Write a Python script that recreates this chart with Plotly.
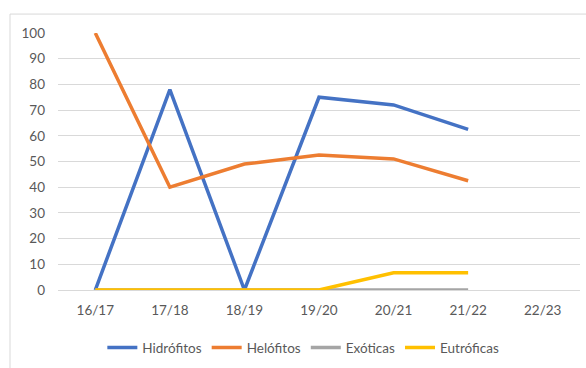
import plotly.graph_objects as go

categories = ["16/17", "17/18", "18/19", "19/20", "20/21", "21/22", "22/23"]
hidrofitos = [0, 78, 0, 75, 72, 62.5, None]
helofitos = [100, 40, 49, 52.5, 51, 42.5, None]
exoticas = [0, 0, 0, 0, 0, 0, None]
eutroficas = [0, 0, 0, 0, 6.7, 6.7, None]

series = [
    ("Hidrófitos", hidrofitos, "#4472C4"),
    ("Helófitos", helofitos, "#ED7D31"),
    ("Exóticas", exoticas, "#A5A5A5"),
    ("Eutróficas", eutroficas, "#FFC000"),
]

fig = go.Figure()
for name, vals, color in series:
    fig.add_trace(go.Scatter(
        x=categories, y=vals, name=name, mode="lines",
        line=dict(color=color, width=3.5), connectgaps=False,
    ))

font = dict(family="Lato, Open Sans, sans-serif", size=13.5, color="#595959")
fig.update_layout(
    width=586, height=368,
    margin=dict(l=58, r=6, t=33, b=77),
    paper_bgcolor="white", plot_bgcolor="white",
    font=font,
    showlegend=True,
    legend=dict(orientation="h", x=0.47, xanchor="center", y=-0.16, yanchor="top",
                font=font, itemwidth=30, tracegroupgap=0),
    xaxis=dict(type="category", range=[-0.5, 6.5], showgrid=False, showline=False,
               ticks="", tickfont=font, ticklabelstandoff=10, fixedrange=True),
    yaxis=dict(range=[0, 100], dtick=10, showgrid=True, gridcolor="#D9D9D9", gridwidth=1,
               zeroline=True, zerolinecolor="#D9D9D9", zerolinewidth=1,
               showline=False, ticks="", tickfont=font, ticklabelstandoff=12),
    shapes=[dict(type="rect", xref="paper", yref="paper",
                 x0=(10 - 58) / 522, x1=(590 - 58) / 522,
                 y0=(291 - 380) / 258, y1=(291 - 14) / 258,
                 line=dict(color="#D9D9D9", width=1), fillcolor="rgba(0,0,0,0)", layer="below")],
)

fig.write_html("out.html")
